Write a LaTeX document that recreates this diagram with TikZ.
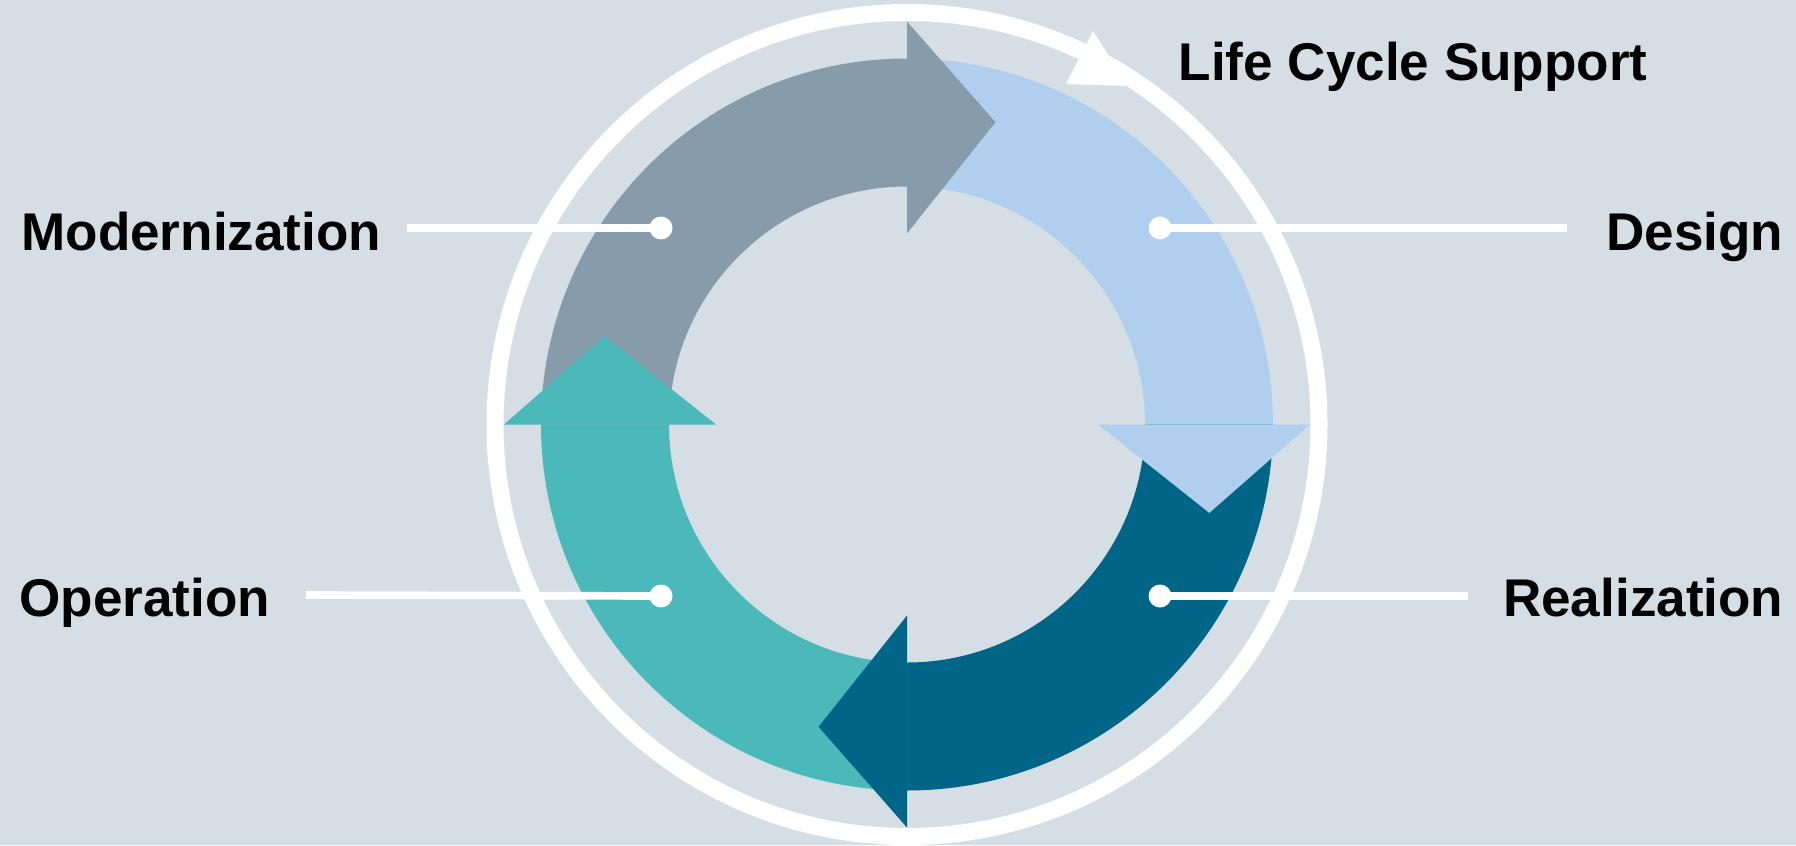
\documentclass[tikz,border=0pt]{standalone}
\usepackage{fontspec}
\setmainfont{Liberation Sans}
\usetikzlibrary{calc}
\definecolor{bgcol}{RGB}{214,222,229}
\definecolor{modcol}{RGB}{135,156,170}
\definecolor{descol}{RGB}{176,207,238}
\definecolor{realcol}{RGB}{0,101,135}
\definecolor{opcol}{RGB}{75,184,186}
\tikzset{
  phase/.style={font=\fontsize{15.1}{18}\selectfont\bfseries, inner sep=0pt, text=black},
  leader/.style={draw=white, line width=0.077cm},
  leaderdot/.style={circle, fill=white, inner sep=0pt, minimum size=0.23cm},
}
\begin{document}
\begin{tikzpicture}
  % Background and frame
  \fill[bgcol] (0,0) rectangle (17.96,8.45);
  \useasboundingbox (0,0) rectangle (17.96,8.45);
  \coordinate (C) at (9.07,4.205);

  % Drawing circle of life cycle support
  \draw[white, line width=0.17cm] (C) circle (4.12);
  \fill[white] (10.93,8.14) -- (10.66,7.61) -- (11.28,7.59) -- cycle;%

  % Drawing ring part Modernization
  \fill[modcol] ($(C)+(180:3.66)$) arc[start angle=180, end angle=90, radius=3.66]
    -- ($(C)+(90:2.38)$) arc[start angle=90, end angle=180, radius=2.38] -- cycle;%
  % Drawing ring part Design
  \fill[descol] ($(C)+(90:3.66)$) arc[start angle=90, end angle=0, radius=3.66]
    -- ($(C)+(0:2.38)$) arc[start angle=0, end angle=90, radius=2.38] -- cycle;%
  % Drawing ring part Realization
  \fill[realcol] ($(C)+(0:3.66)$) arc[start angle=0, end angle=-90, radius=3.66]
    -- ($(C)+(-90:2.38)$) arc[start angle=-90, end angle=0, radius=2.38] -- cycle;%
  % Drawing ring part Operation
  \fill[opcol] ($(C)+(-90:3.66)$) arc[start angle=-90, end angle=-180, radius=3.66]
    -- ($(C)+(-180:2.38)$) arc[start angle=-180, end angle=-90, radius=2.38] -- cycle;%

  % Drawing arrow heads
  \fill[modcol] ($(C)+(90:1.91)$) -- ($(C)+(90:4.03)$) -- ($(C)+(73.7:3.15)$) -- cycle;%
  \fill[descol] ($(C)+(0:1.91)$) -- ($(C)+(0:4.03)$) -- ($(C)+(-16.3:3.15)$) -- cycle;%
  \fill[realcol] ($(C)+(-90:1.91)$) -- ($(C)+(-90:4.03)$) -- ($(C)+(-106.3:3.15)$) -- cycle;%
  \fill[opcol] ($(C)+(180:1.91)$) -- ($(C)+(180:4.03)$) -- ($(C)+(163.7:3.15)$) -- cycle;%

  % Marking phase labels
  \node[phase, anchor=base west] (lcs) at (11.78,7.64) {Life Cycle Support};
  \node[phase, anchor=base west] (modern) at (0.207,5.95) {Modernization};
  \node[phase, anchor=base east] (design) at (17.84,5.95) {Design};
  \node[phase, anchor=base west] (oper) at (0.188,2.29) {Operation};
  \node[phase, anchor=base east] (real) at (17.84,2.29) {Realization};

  % Marking points by dots
  \node[leaderdot] (modern-dot) at (6.61,6.17) {};
  \node[leaderdot] (design-dot) at (11.60,6.17) {};
  \node[leaderdot] (oper-dot) at (6.61,2.49) {};
  \node[leaderdot] (real-dot) at (11.60,2.49) {};
  \coordinate (modern-end) at (4.07,6.17);
  \coordinate (design-end) at (15.67,6.17);
  \coordinate (oper-end) at (3.06,2.50);
  \coordinate (real-end) at (14.68,2.49);

  % Drawing leader lines
  \draw[leader] (modern-end) -- (modern-dot.center);
  \draw[leader] (design-dot.center) -- (design-end);
  \draw[leader] (oper-end) -- (oper-dot.center);
  \draw[leader] (real-dot.center) -- (real-end);
\end{tikzpicture}
\end{document}
